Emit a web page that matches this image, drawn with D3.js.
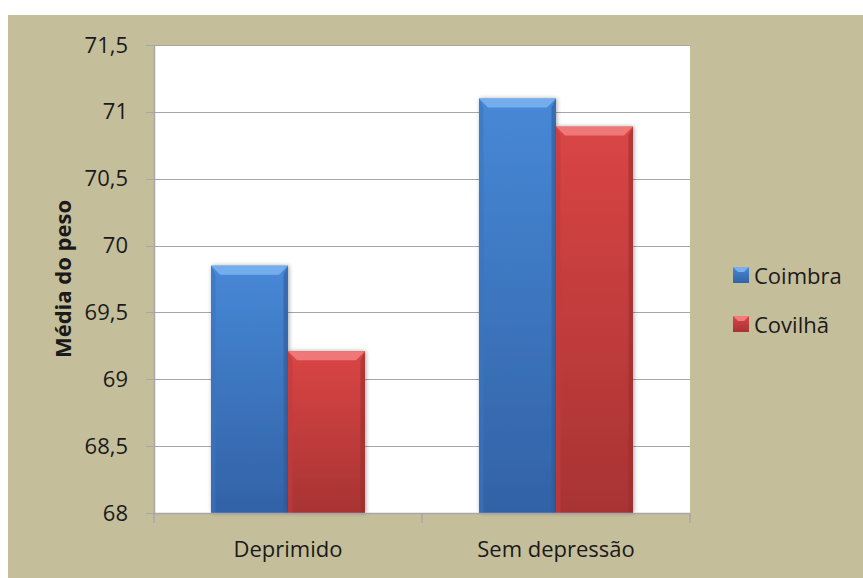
<!DOCTYPE html>
<html>
<head>
<meta charset="utf-8">
<script src="https://cdn.jsdelivr.net/npm/d3@7"></script>
<style>
html,body{margin:0;padding:0;background:#fff;}
svg{display:block;}
text{font-family:"Open Sans",sans-serif;fill:#1a1a1a;}
</style>
</head>
<body>
<script>
const categories = ["Deprimido", "Sem depressão"];
const seriesNames = ["Coimbra", "Covilhã"];
const coimbraValues = [69.85, 71.1];
const covilhaValues = [69.21, 70.89];
const yTickValues = [68, 68.5, 69, 69.5, 70, 70.5, 71, 71.5];
const yTitle = "Média do peso";

const W = 863, H = 578;
const plot = {left: 154, right: 690, top: 45, bottom: 513};

const svg = d3.select("body").append("svg").attr("width", W).attr("height", H);
const defs = svg.append("defs");

const palette = {
  Coimbra: {top: "#4788D6", bottom: "#3262A6", light: "#79B1EE", dark: "#2E5C9C", side: "#3B74BE", leg: "#3A73BD"},
  "Covilhã": {top: "#DA4545", bottom: "#A83333", light: "#F27C7C", dark: "#9A2E2E", side: "#C23C3C", leg: "#C43B3B"}
};
seriesNames.forEach((s, i) => {
  const g = defs.append("linearGradient").attr("id", "grad" + i)
    .attr("x1", 0).attr("y1", 0).attr("x2", 0).attr("y2", 1);
  g.append("stop").attr("offset", "0%").attr("stop-color", palette[s].top);
  g.append("stop").attr("offset", "100%").attr("stop-color", palette[s].bottom);
});
const f = defs.append("filter").attr("id", "shadow").attr("x", "-20%").attr("y", "-20%").attr("width", "140%").attr("height", "140%");
f.append("feDropShadow").attr("dx", 1).attr("dy", 0).attr("stdDeviation", 2.2)
  .attr("flood-color", "#000").attr("flood-opacity", 0.35);

// background
svg.append("rect").attr("x", 8).attr("y", 15).attr("width", W - 8).attr("height", H - 15).attr("fill", "#C5BE9B");
svg.append("rect").attr("x", plot.left).attr("y", plot.top)
  .attr("width", plot.right - plot.left).attr("height", plot.bottom - plot.top).attr("fill", "#fff");

const fmt = d3.formatLocale({decimal: ",", thousands: ".", grouping: [3], currency: ["", "€"]}).format("~r");

const y = d3.scaleLinear().domain([68, 71.5]).range([plot.bottom, plot.top]);
const x0 = d3.scaleBand().domain(categories).range([plot.left, plot.right]).paddingInner(0).paddingOuter(0);
const x1 = d3.scaleBand().domain(seriesNames).range([0, x0.bandwidth()]).paddingInner(0).paddingOuter(0.74);

// gridlines
svg.append("g").selectAll("line").data(yTickValues).join("line")
  .attr("x1", plot.left - 8).attr("x2", plot.right)
  .attr("y1", d => Math.round(y(d)) + 0.5).attr("y2", d => Math.round(y(d)) + 0.5)
  .attr("stroke", "#A6A6A6").attr("stroke-width", 1.2);

// y axis
const yAxis = svg.append("g").attr("transform", `translate(${plot.left},0)`)
  .call(d3.axisLeft(y).tickValues(yTickValues).tickFormat(fmt).tickSize(0).tickPadding(26));
yAxis.select(".domain").attr("stroke", "#A6A6A6").attr("stroke-width", 1.5);
yAxis.selectAll("text").attr("font-size", 22).attr("font-family", "Open Sans").attr("fill", "#1a1a1a");

// bars
const data = categories.map((c, i) => ({cat: c, vals: [coimbraValues[i], covilhaValues[i]]}));
const groups = svg.append("g").selectAll("g").data(data).join("g")
  .attr("transform", d => `translate(${x0(d.cat)},0)`);
const bars = groups.selectAll("g").data(d => d.vals.map((v, i) => ({s: seriesNames[i], i, v}))).join("g");
bars.each(function(d) {
  const g = d3.select(this);
  const bx = x1(d.s), bw = x1.bandwidth(), by = y(d.v), bb = y(68);
  const b = 9;
  const p = palette[d.s];
  g.append("rect").attr("x", bx).attr("y", by).attr("width", bw).attr("height", bb - by)
    .attr("fill", `url(#grad${d.i})`).attr("filter", "url(#shadow)");
  g.append("polygon").attr("points", [[bx, by], [bx + bw, by], [bx + bw - b, by + b], [bx + b, by + b]].join(" "))
    .attr("fill", p.light).attr("opacity", 0.9);
  g.append("polygon").attr("points", [[bx, by], [bx + b * 0.5, by + b], [bx + b * 0.5, bb], [bx, bb]].join(" "))
    .attr("fill", p.side).attr("opacity", 0.6);
  g.append("polygon").attr("points", [[bx + bw, by], [bx + bw - b * 0.5, by + b], [bx + bw - b * 0.5, bb], [bx + bw, bb]].join(" "))
    .attr("fill", p.dark).attr("opacity", 0.6);
});

// x axis
const xAxis = svg.append("g").attr("transform", `translate(0,${plot.bottom})`);
xAxis.append("line").attr("x1", plot.left).attr("x2", plot.right).attr("y1", 0.5).attr("y2", 0.5)
  .attr("stroke", "#A6A6A6").attr("stroke-width", 1.5);
const boundaries = categories.map(c => x0(c)).concat([x0(categories[categories.length - 1]) + x0.bandwidth()]);
xAxis.selectAll("line.t").data(boundaries).join("line").attr("class", "t")
  .attr("x1", d => d).attr("x2", d => d).attr("y1", 0).attr("y2", 10)
  .attr("stroke", "#A6A6A6").attr("stroke-width", 1.5);
xAxis.selectAll("text").data(categories).join("text")
  .attr("x", d => x0(d) + x0.bandwidth() / 2).attr("y", 44)
  .attr("text-anchor", "middle").attr("font-size", 22).text(d => d);

// y title
svg.append("text").attr("transform", "translate(62,279) rotate(-90)")
  .attr("text-anchor", "middle").attr("dominant-baseline", "central")
  .attr("font-size", 22).attr("font-weight", "bold").attr("fill", "#000").text(yTitle);

// legend
const legend = svg.append("g").selectAll("g").data(seriesNames).join("g")
  .attr("transform", (d, i) => `translate(733,${267 + i * 49})`);
legend.append("rect").attr("width", 16).attr("height", 16).attr("fill", (d, i) => `url(#grad${i})`);
legend.append("polygon").attr("points", "0,0 16,0 11,5 5,5").attr("fill", d => palette[d].light);
legend.append("text").attr("x", 21).attr("y", 8).attr("dominant-baseline", "central")
  .attr("font-size", 22).text(d => d);
</script>
</body>
</html>
